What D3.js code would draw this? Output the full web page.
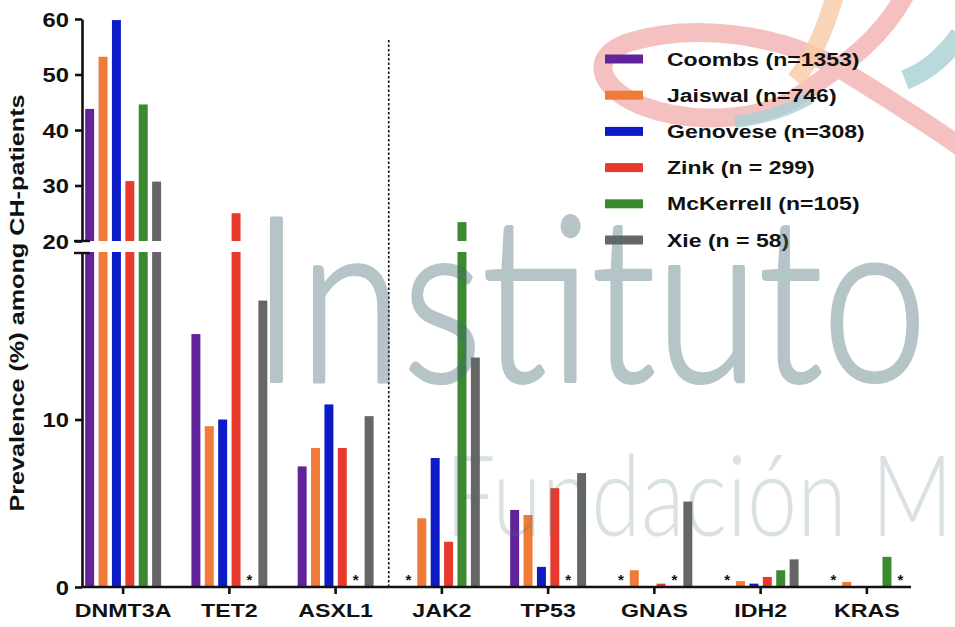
<!DOCTYPE html>
<html>
<head>
<meta charset="utf-8">
<script src="https://cdn.jsdelivr.net/npm/d3@7"></script>
<style>
  html, body { margin: 0; padding: 0; background: #fff; }
  svg { display: block; }
  .lbl { font-family: "Liberation Sans", Arial, Helvetica, sans-serif; font-weight: bold; fill: #111; }
</style>
</head>
<body>
<svg id="chart" width="955" height="627"></svg>
<script>
// Prevalence (%) of the most frequently mutated CH genes across published cohorts
const genes = ["DNMT3A", "TET2", "ASXL1", "JAK2", "TP53", "GNAS", "IDH2", "KRAS"];
const seriesNames = ["Coombs (n=1353)", "Jaiswal (n=746)", "Genovese (n=308)", "Zink (n = 299)", "McKerrell (n=105)", "Xie (n = 58)"];
const seriesColors = ["#62249a", "#f07a38", "#0c1bc6", "#e83a2c", "#3b8a30", "#666666"];

// null = gene not reported in that cohort (marked with *)
const coombs    = [43.8, 15.1, 7.2, null, 4.6, null, null, null];
const jaiswal   = [53.2, 9.6, 8.3, 4.1, 4.3, 1.0, 0.35, 0.3];
const genovese  = [59.8, 10.0, 10.9, 7.7, 1.2, 0, 0.2, 0];
const zink      = [30.8, 25.0, 8.3, 2.7, 5.9, 0.2, 0.6, 0];
const mckerrell = [44.6, null, null, 23.4, null, null, 1.0, 1.8];
const xie       = [30.7, 17.1, 10.2, 13.7, 6.8, 5.1, 1.65, null];
const seriesValues = [coombs, jaiswal, genovese, zink, mckerrell, xie];

const upperTicks = [20, 30, 40, 50, 60];
const lowerTicks = [0, 10];
const yTitle = "Prevalence (%) among CH-patients";

const svg = d3.select("#chart");
const FONT_SX = 1.22;   // horizontal stretch applied to chart lettering

// ---- scales ----
const x0 = d3.scaleBand().domain(genes).range([70, 920]).paddingInner(0.24).paddingOuter(0.12);
const x1 = d3.scaleBand().domain(d3.range(seriesNames.length)).range([0, x0.bandwidth()])
  .paddingInner(0.33).paddingOuter(0.18);
const yLow = d3.scaleLinear().domain([0, 20]).range([587, 252]);
const yUp  = d3.scaleLinear().domain([20, 60]).range([241, 19]);
const axisX = 82, axisRight = 911;

// ---- background logo (ribbon mark) ----
const logo = svg.append("g").attr("fill", "none").attr("stroke-linecap", "butt");
logo.append("path")
  .attr("d", "M905,-5 C880,40 850,60 800,95 C760,122 690,125 640,105 C595,85 590,55 630,42 C690,24 780,30 850,75 C890,100 930,125 965,150")
  .attr("stroke", "#f3b0b0").attr("stroke-width", 19).attr("opacity", 0.8);
logo.append("path")
  .attr("d", "M835,-5 C825,30 812,60 795,80")
  .attr("stroke", "#f8c9a4").attr("stroke-width", 18).attr("opacity", 0.8);
logo.append("path")
  .attr("d", "M735,122 C765,118 790,110 810,98")
  .attr("stroke", "#a9cfd3").attr("stroke-width", 12).attr("opacity", 0.8);
logo.append("path")
  .attr("d", "M905,80 C930,70 945,55 960,35")
  .attr("stroke", "#a9cfd3").attr("stroke-width", 20).attr("opacity", 0.8);

// ---- bars ----
const barData = [];
genes.forEach((g, gi) => {
  seriesValues.forEach((vals, si) => {
    barData.push({ gene: g, s: si, v: vals[gi] });
  });
});
const barsG = svg.append("g");
const present = barData.filter(d => d.v !== null && d.v > 0);
// lower segment (0–20)
barsG.selectAll("rect.low").data(present).join("rect")
  .attr("class", "low")
  .attr("x", d => x0(d.gene) + x1(d.s))
  .attr("width", x1.bandwidth())
  .attr("y", d => yLow(Math.min(d.v, 20)))
  .attr("height", d => yLow(0) - yLow(Math.min(d.v, 20)))
  .attr("fill", d => seriesColors[d.s]);
// upper segment (20–60)
barsG.selectAll("rect.up").data(present.filter(d => d.v > 20)).join("rect")
  .attr("class", "up")
  .attr("x", d => x0(d.gene) + x1(d.s))
  .attr("width", x1.bandwidth())
  .attr("y", d => yUp(d.v))
  .attr("height", d => yUp(20) - yUp(d.v))
  .attr("fill", d => seriesColors[d.s]);
// asterisks for cohorts that did not report the gene
barsG.selectAll("text.na").data(barData.filter(d => d.v === null)).join("text")
  .attr("class", "lbl na")
  .attr("x", d => x0(d.gene) + x1(d.s) + x1.bandwidth() / 2)
  .attr("y", 585)
  .attr("text-anchor", "middle")
  .attr("font-size", 15)
  .text("*");

// ---- divider between gene groups ----
const divX = (x0("ASXL1") + x0.bandwidth() + x0("JAK2")) / 2;
svg.append("line")
  .attr("x1", divX).attr("x2", divX).attr("y1", 40).attr("y2", 587)
  .attr("stroke", "#111").attr("stroke-width", 1.6).attr("stroke-dasharray", "2.5,2");

// ---- axes ----
function styleAxis(g) {
  g.selectAll("path.domain").attr("stroke", "#111").attr("stroke-width", 2.6);
  g.selectAll(".tick line").attr("stroke", "#111").attr("stroke-width", 2.6);
  g.selectAll(".tick text").attr("class", "lbl").attr("fill", "#111");
}
const yUpG = svg.append("g").attr("transform", `translate(${axisX},0)`)
  .call(d3.axisLeft(yUp).tickValues(upperTicks).tickSize(7).tickSizeOuter(0).tickPadding(6));
const yLowG = svg.append("g").attr("transform", `translate(${axisX},0)`)
  .call(d3.axisLeft(yLow).tickValues(lowerTicks).tickSize(7).tickSizeOuter(0).tickPadding(6));
[yUpG, yLowG].forEach(g => {
  styleAxis(g);
  g.selectAll(".tick text")
    .attr("font-size", 19.5)
    .attr("dy", "0.36em")
    .attr("x", -13 / FONT_SX)
    .attr("transform", `scale(${FONT_SX},1)`);
});
// break marks where the axis is split
[yUp(20), yLow(20) + 1].forEach(yb => {
  svg.append("line").attr("x1", axisX - 8).attr("x2", axisX + 8)
    .attr("y1", yb).attr("y2", yb)
    .attr("stroke", "#111").attr("stroke-width", 2.4);
});

const xG = svg.append("g").attr("transform", `translate(0,${yLow(0)})`)
  .call(d3.axisBottom(x0).tickSize(7).tickSizeOuter(0).tickPadding(10));
styleAxis(xG);
xG.select("path.domain").attr("d", `M${axisX - 1},0H${axisRight}`);
xG.selectAll(".tick text")
  .attr("font-size", 19)
  .attr("dy", "0.71em")
  .attr("x", 0)
  .attr("transform", `scale(${FONT_SX},1)`);

// y-axis title
svg.append("text").attr("class", "lbl")
  .attr("transform", `translate(24,303) rotate(-90) scale(1.2,1)`)
  .attr("text-anchor", "middle")
  .attr("font-size", 21)
  .text(yTitle);

// ---- legend ----
const legend = svg.append("g");
seriesNames.forEach((name, i) => {
  const cy = 59 + i * 36.2;
  legend.append("rect").attr("x", 605).attr("y", cy - 4.5).attr("width", 38).attr("height", 9)
    .attr("fill", seriesColors[i]);
  legend.append("text").attr("class", "lbl")
    .attr("transform", `translate(667,${cy + 6.5}) scale(${FONT_SX + 0.06},1)`)
    .attr("font-size", 18)
    .text(name);
});

// ---- watermark lettering ----
svg.append("text")
  .attr("x", 252).attr("y", 381)
  .attr("font-family", "Lato, 'Open Sans', sans-serif").attr("font-weight", 300)
  .attr("font-size", 230)
  .attr("textLength", 675).attr("lengthAdjust", "spacingAndGlyphs")
  .attr("fill", "#466e75").attr("stroke", "#466e75").attr("stroke-width", 4)
  .attr("stroke-linejoin", "round")
  .attr("opacity", 0.4)
  .text("Instituto");
svg.append("text")
  .attr("x", 445).attr("y", 536)
  .attr("font-family", "Lato, 'Open Sans', sans-serif").attr("font-weight", 300)
  .attr("font-size", 112)
  .attr("textLength", 508).attr("lengthAdjust", "spacingAndGlyphs")
  .attr("fill", "#466e75").attr("opacity", 0.2)
  .text("Fundación M");
</script>
</body>
</html>
